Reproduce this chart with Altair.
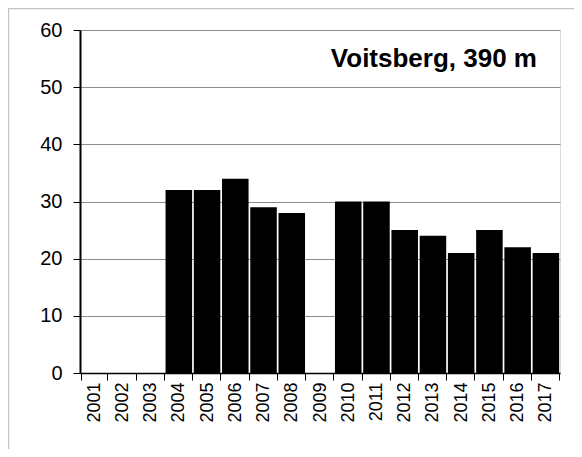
import altair as alt
import pandas as pd

years = [str(y) for y in range(2001, 2018)]
values = [None, None, None, 32, 32, 34, 29, 28, None, 30, 30, 25, 24, 21, 25, 22, 21]
title_text = "Voitsberg, 390 m"
y_ticks = [0, 10, 20, 30, 40, 50, 60]

df = pd.DataFrame({"year": years, "value": values})

FONT = "Liberation Sans"
W, H = 480, 343

x_enc = alt.X(
    "year:O",
    sort=years,
    scale=alt.Scale(domain=years, paddingInner=0.06, paddingOuter=0.03),
    axis=alt.Axis(
        title=None,
        labelAngle=-90,
        labelAlign="right",
        labelBaseline="middle",
        labelFontSize=18,
        labelFont=FONT,
        labelColor="#000000",
        labelPadding=2,
        tickBand="extent",
        tickSize=7,
        tickColor="#000000",
        tickWidth=1,
        domainColor="#000000",
        domainWidth=1.5,
        grid=False,
    ),
)

bars = alt.Chart(df).mark_bar(color="#000000").encode(
    x=x_enc,
    y=alt.Y(
        "value:Q",
        scale=alt.Scale(domain=[0, 60], nice=False),
        axis=alt.Axis(
            title=None,
            values=y_ticks,
            labelFontSize=20,
            labelFont=FONT,
            labelColor="#000000",
            labelPadding=11,
            tickSize=7,
            tickColor="#000000",
            tickWidth=1,
            domainColor="#000000",
            domainWidth=2,
            grid=True,
            gridColor="#8c8c8c",
            gridWidth=1,
        ),
    ),
)

label = alt.Chart(pd.DataFrame({"t": [title_text]})).mark_text(
    font=FONT, fontSize=26, fontWeight="bold", align="right", baseline="alphabetic", color="#000000"
).encode(text="t:N", x=alt.value(457), y=alt.value(37))

frame = alt.Chart(pd.DataFrame({"k": [0]})).mark_rect(
    fill=None, stroke="#c4c4c4", strokeWidth=1.5
).encode(
    x=alt.value(-71.5), x2=alt.value(W + 100),
    y=alt.value(-21.5), y2=alt.value(H + 200),
)

chart = alt.layer(frame, bars, label).properties(
    width=W,
    height=H,
    autosize=alt.AutoSizeParams(type="none"),
    padding={"left": 72, "top": 22, "right": 14, "bottom": 76},
).configure_view(stroke="#000000", strokeWidth=1.2).configure(background="#ffffff")

chart.save("out.html", embed_options={"renderer": "svg", "actions": False})
